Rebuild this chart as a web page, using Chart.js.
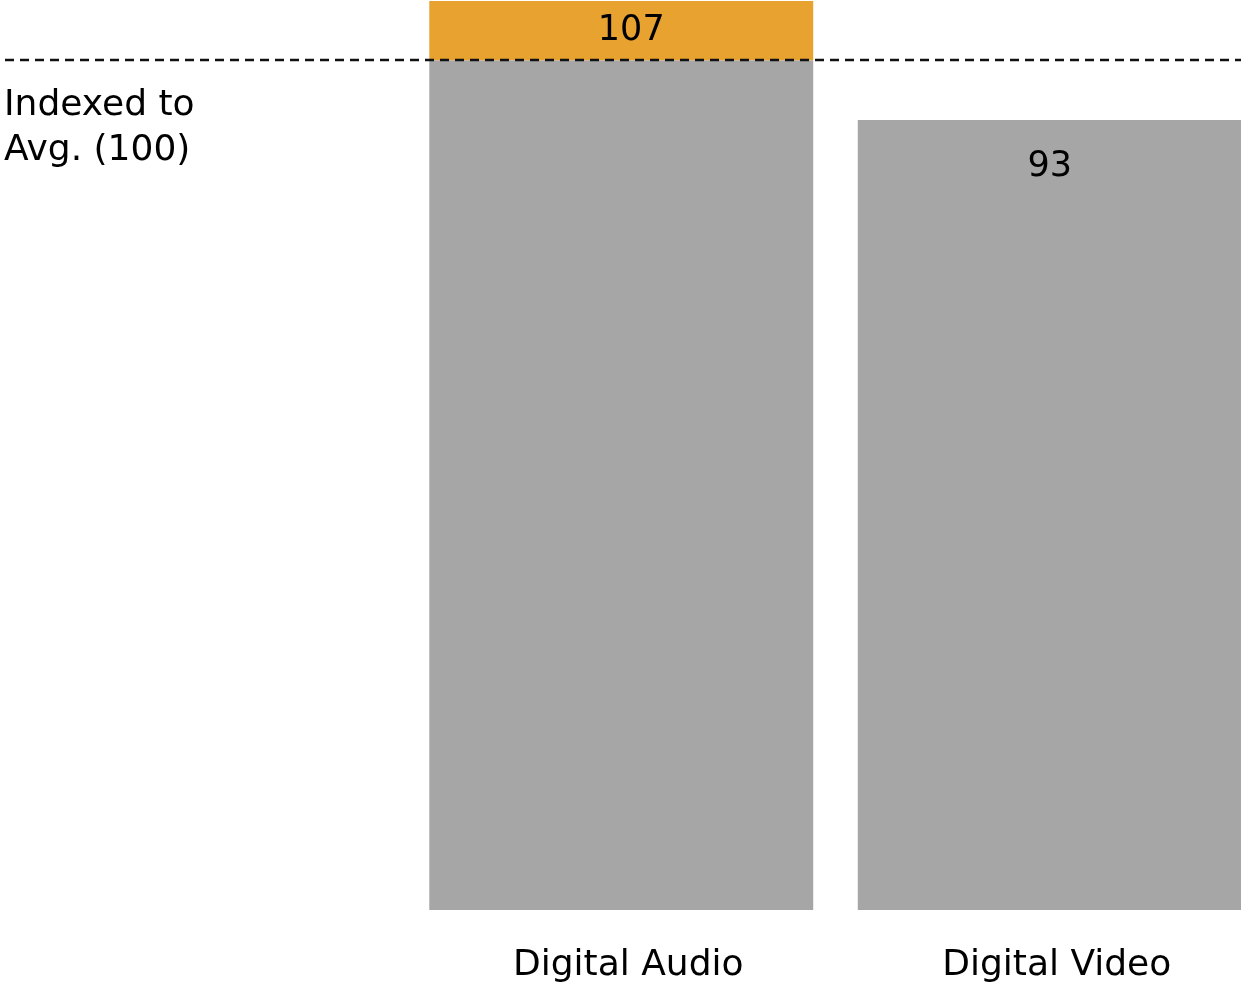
<!DOCTYPE html>
<html>
<head>
<meta charset="utf-8">
<script src="https://cdn.jsdelivr.net/npm/chart.js@4/dist/chart.umd.min.js"></script>
<style>
  html, body { margin: 0; padding: 0; background: #fff; overflow: hidden; }
  #wrap { width: 1264px; height: 983px; }
</style>
</head>
<body>
<div id="wrap"><canvas id="myChart" width="1264" height="983"></canvas></div>
<script>
/* globals Chart */

const categories = ["Digital Audio", "Digital Video"];
const indexValues = [107, 93];
const average = 100;
const refLabel = ["Indexed to", "Avg. (100)"];

// split each index into the part up to the average and the part above it
const upToAvg = indexValues.map((v) => Math.min(v, average));
const aboveAvg = indexValues.map((v) => Math.max(v - average, 0));

const FONT = "'DejaVu Sans', sans-serif";

const refLine = {
  id: "refLine",
  afterDatasetsDraw(chart) {
    const { ctx, scales } = chart;
    const y = Math.round(scales.y.getPixelForValue(average));
    ctx.save();
    ctx.strokeStyle = "#111";
    ctx.lineWidth = 2.5;
    ctx.setLineDash([9, 6]);
    ctx.beginPath();
    ctx.moveTo(5, y);
    ctx.lineTo(chart.width, y);
    ctx.stroke();
    ctx.setLineDash([]);

    ctx.fillStyle = "#000";
    ctx.font = "36px " + FONT;
    ctx.textAlign = "left";
    ctx.textBaseline = "alphabetic";
    ctx.fillText(refLabel[0], 4, y + 55);
    ctx.fillText(refLabel[1], 4, y + 100);

    // value labels
    ctx.font = "35px " + FONT;
    ctx.textAlign = "center";
    ctx.textBaseline = "middle";
    const base = chart.getDatasetMeta(0).data;
    const top = chart.getDatasetMeta(1).data;
    indexValues.forEach((v, i) => {
      let x, ly;
      if (v > average) {
        x = top[i].x;
        ly = (top[i].y + top[i].base) / 2;
      } else {
        x = base[i].x;
        ly = base[i].y + 47;
      }
      ctx.fillText(String(v), x + (i === 0 ? 10 : 0), ly);
    });
    ctx.restore();
  },
};

const ctx = document.getElementById("myChart").getContext("2d");

/* exported myChart */
const myChart = new Chart(ctx, {
  type: "bar",
  plugins: [refLine],
  data: {
    labels: categories,
    datasets: [
      {
        label: "Up to average",
        data: upToAvg,
        backgroundColor: "#a6a6a6",
      },
      {
        label: "Above average",
        data: aboveAvg,
        backgroundColor: "#e8a230",
      },
    ],
  },
  options: {
    responsive: false,
    animation: false,
    events: [],
    layout: {
      padding: { left: 407, top: 1, right: 0, bottom: -39 },
    },
    datasets: {
      bar: {
        categoryPercentage: 1,
        barPercentage: 0.896,
      },
    },
    scales: {
      x: {
        stacked: true,
        grid: { display: false, drawTicks: false },
        border: { display: false },
        ticks: {
          color: "#000",
          padding: 38,
          labelOffset: 7,
          font: { family: FONT, size: 36, lineHeight: 1 },
        },
      },
      y: {
        stacked: true,
        display: false,
        min: 0,
        max: 107,
      },
    },
    plugins: {
      legend: { display: false },
      title: { display: false },
      tooltip: { enabled: false },
    },
  },
});
</script>
</body>
</html>
